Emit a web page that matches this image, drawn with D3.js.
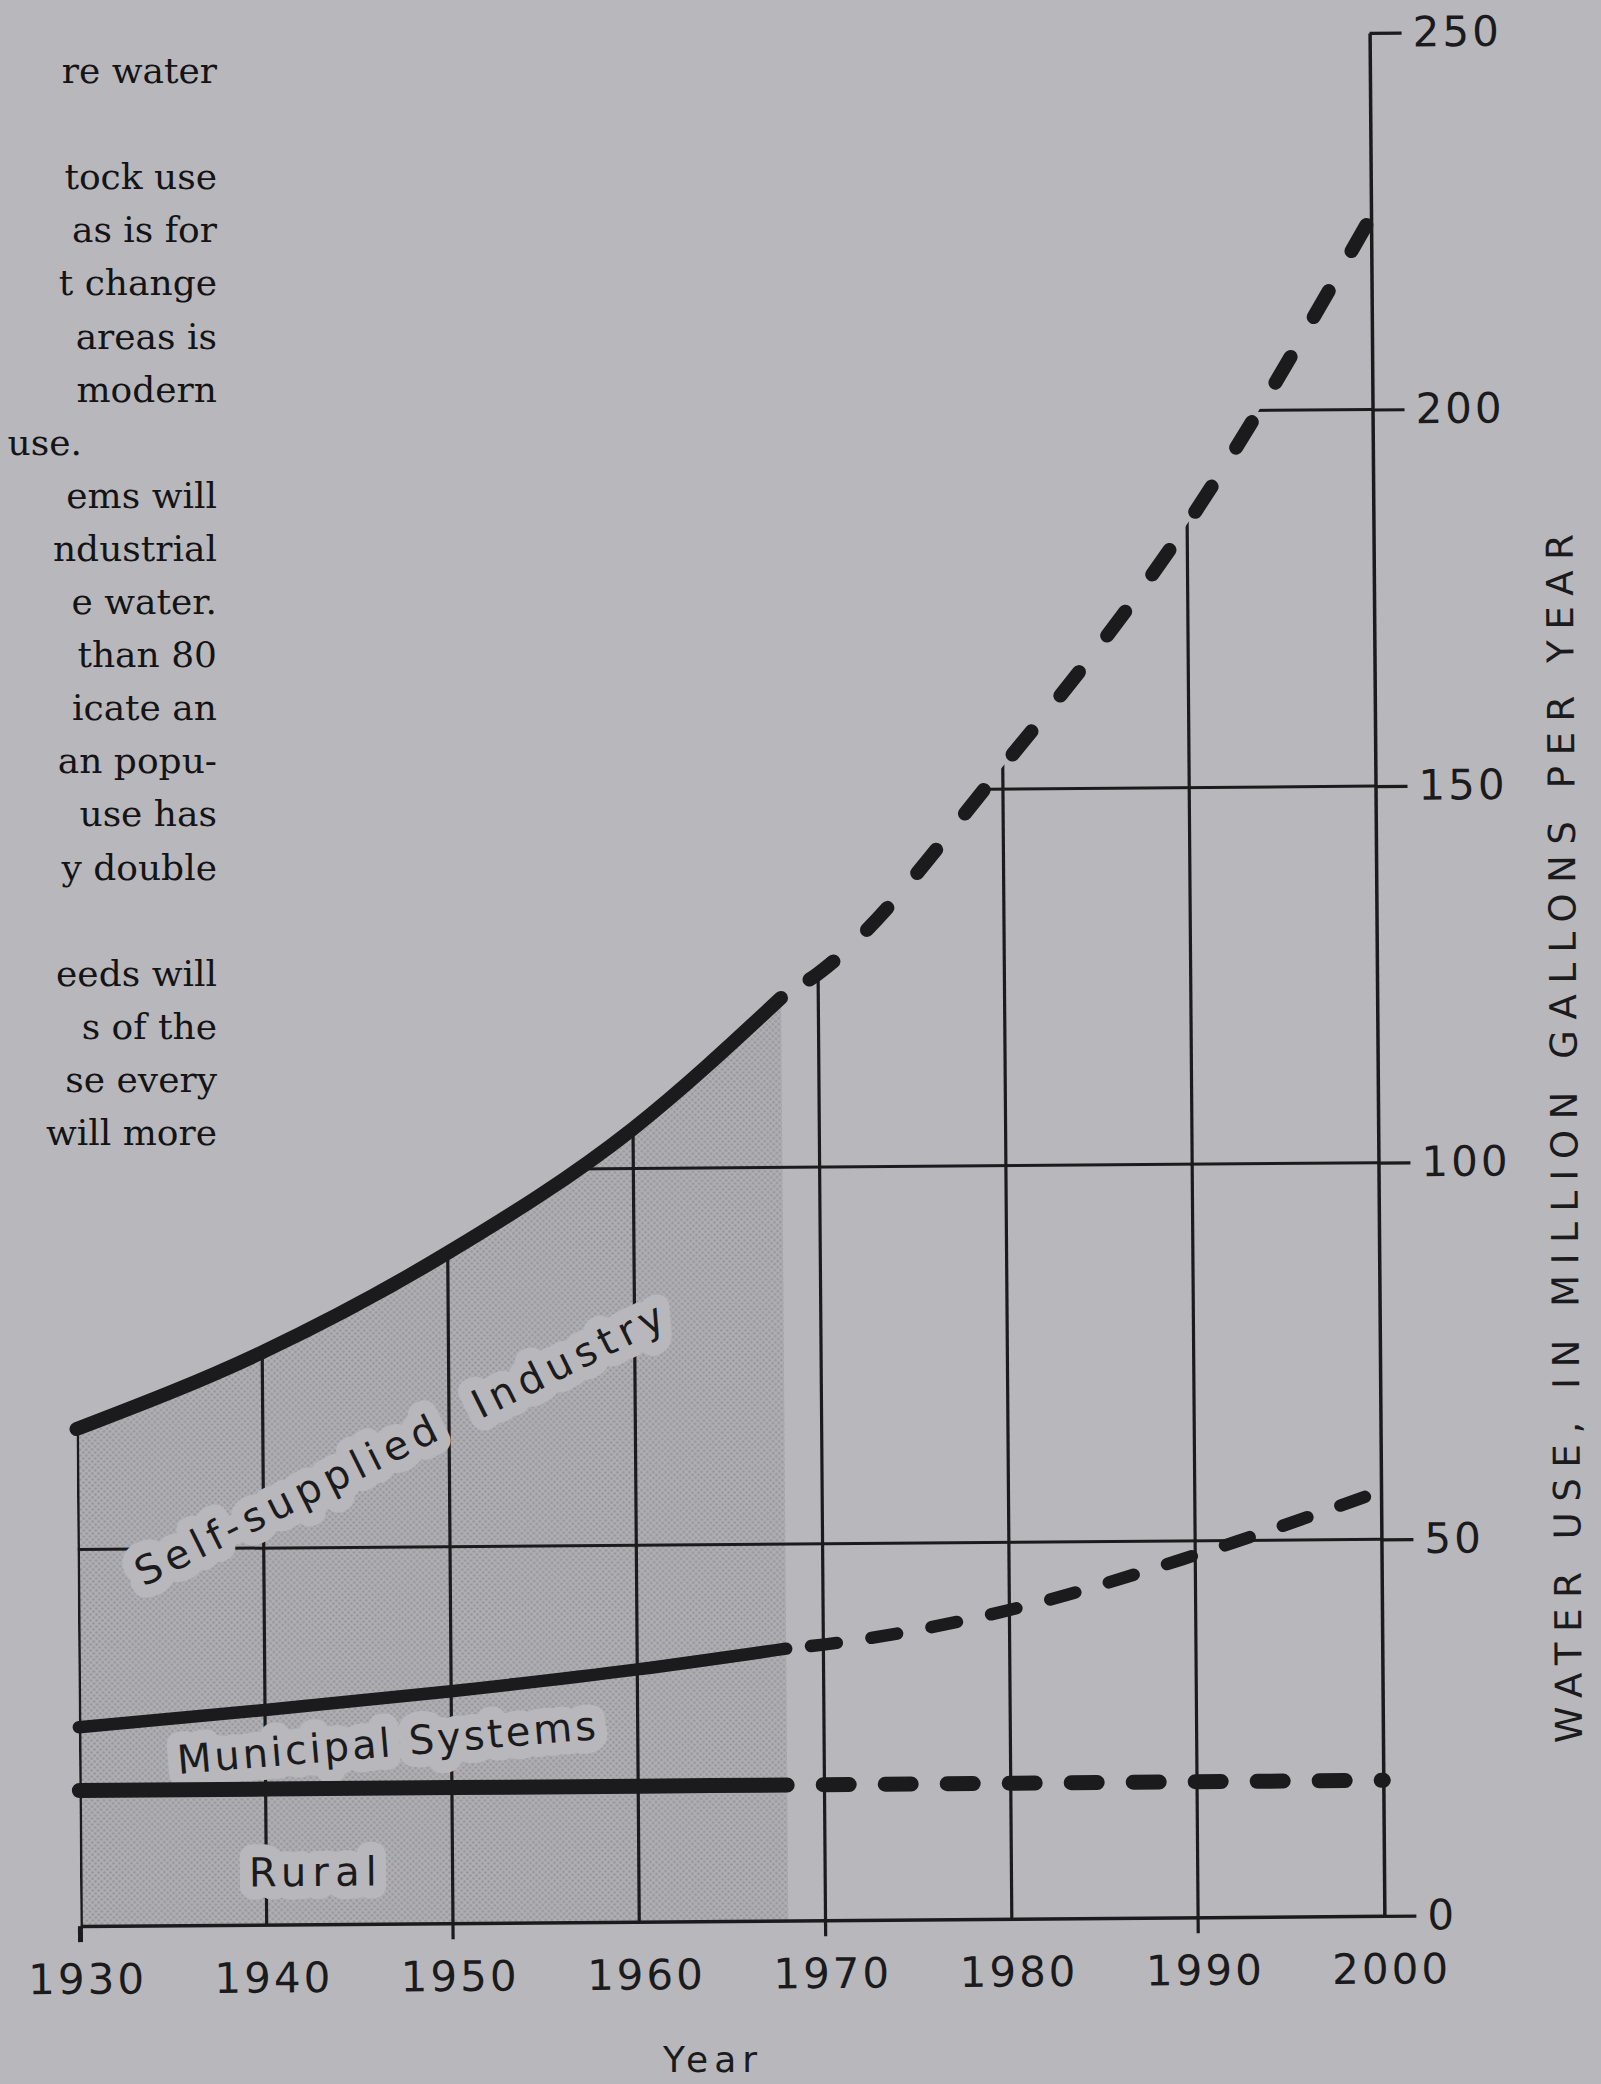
<!DOCTYPE html>
<html>
<head>
<meta charset="utf-8">
<script src="https://cdn.jsdelivr.net/npm/d3@7"></script>
<style>
  body { margin: 0; background: #b8b8bc; }
  svg { display: block; }
</style>
</head>
<body>
<svg id="chart" width="1601" height="2084"></svg>
<script>
// data (upper edge of each band, million gallons per year)
let years         = [1930, 1940, 1950, 1960, 1968, 1970, 1980, 1990, 2000];
let industryTop   = [66, 76, 89, 105.3, 122.5, 125.7, 153, 185, 225.6];
let municipalTop  = [26.4, 28.5, 30.8, 33.5, 36.1, 36.6, 41, 48.1, 56.4];
let ruralTop      = [18, 18, 18, 18, 18, 18, 18, 18, 18];
let projectionFrom = 1968;

let xTicks = [1930, 1940, 1950, 1960, 1970, 1980, 1990, 2000];
let bottomTicks = [1930, 1950, 1970, 1990];
let yTicks = [0, 50, 100, 150, 200, 250];

let bandLabels = ["Self-supplied  Industry", "Municipal Systems", "Rural"];
let xTitle = "Year";
let yTitle = "WATER USE, IN MILLION GALLONS PER YEAR";

// book text cut off at the left edge of the page
let bodyLines = ["re water", "", "tock use", "as is for", "t change", " areas is",
  " modern", "use.", "ems will", "ndustrial", "e water.", " than 80", "icate an",
  "an popu-", " use has", "y double", "", "eeds will", "s of the", "se every", "will more"];

let width = 1601, height = 2084;
let paper = "#b8b8bc", ink = "#1b1b1d";

let svg = d3.select("#chart");
let defs = svg.append("defs");

// halftone for the recorded period
let pat = defs.append("pattern")
    .attr("id", "stipple")
    .attr("width", 6).attr("height", 6)
    .attr("patternUnits", "userSpaceOnUse");
pat.append("rect").attr("width", 6).attr("height", 6).attr("fill", "#afafb3");
pat.selectAll("circle")
  .data([[1.5, 1.5], [4.5, 4.5]])
  .enter().append("circle")
    .attr("cx", d => d[0]).attr("cy", d => d[1]).attr("r", 1.3)
    .attr("fill", "#95959a");

svg.append("rect").attr("width", width).attr("height", height).attr("fill", paper);

svg.append("g")
  .selectAll("text")
  .data(bodyLines)
  .enter().append("text")
    .attr("x", d => d.length < 6 ? 82 : 217)
    .attr("y", (d, i) => 83 + i * 53.1)
    .attr("text-anchor", "end")
    .attr("fill", "#141416")
    .style("font-family", "'DejaVu Serif', serif")
    .style("font-size", "36px")
    .style("white-space", "pre")
    .text(d => d);

// the scanned page is tilted a little
let g = svg.append("g").attr("transform", "rotate(-0.45,728,980)");

let x = d3.scaleLinear().domain([1930, 2000]).range([73, 1377]);
let y = d3.scaleLinear().domain([0, 250]).range([1921, 38]);

let rows = years.map((yr, i) => ({
  year: yr, industry: industryTop[i], municipal: municipalTop[i], rural: ruralTop[i]
}));
let past = rows.filter(d => d.year <= projectionFrom);
let future = rows.filter(d => d.year >= projectionFrom);

let underTop = d3.area()
    .x(d => x(d.year))
    .y0(y(0))
    .y1(d => y(d.industry))
    .curve(d3.curveMonotoneX);

defs.append("clipPath").attr("id", "under")
  .append("path").attr("d", underTop(rows));

// shaded area 1930-1968
g.append("path")
  .attr("d", underTop(past))
  .attr("fill", "url(#stipple)");

// grid, only below the top curve
let grid = g.append("g")
    .attr("clip-path", "url(#under)")
    .attr("stroke", ink);

grid.selectAll(".vgrid")
  .data(xTicks.slice(0, -1))
  .enter().append("line")
    .attr("class", "vgrid")
    .attr("x1", d => x(d)).attr("x2", d => x(d))
    .attr("y1", y(0)).attr("y2", y(250))
    .attr("stroke-width", d => d === 1930 ? 5 : 3.2);

grid.selectAll(".hgrid")
  .data(yTicks.slice(1, -1))
  .enter().append("line")
    .attr("class", "hgrid")
    .attr("x1", x(1930)).attr("x2", x(2000))
    .attr("y1", d => y(d)).attr("y2", d => y(d))
    .attr("stroke-width", 3);

// ticks below the base line
g.selectAll(".btick")
  .data(bottomTicks)
  .enter().append("line")
    .attr("class", "btick")
    .attr("x1", d => x(d)).attr("x2", d => x(d))
    .attr("y1", y(0)).attr("y2", y(0) + 16)
    .attr("stroke", ink)
    .attr("stroke-width", d => d === 1930 ? 5 : 3.2);

// band labels, each knocked out of the grid
let labelPos = [
  { year: 1947.3, value: 63.7, angle: -26, len: 585 },
  { year: 1946.5, value: 24.1, angle: -4.3, len: 420 },
  { year: 1942.5, value: 7, angle: 0, len: 128 }
];

let labels = g.append("g");
bandLabels.forEach((lab, i) => {
  let p = labelPos[i];
  let t = "translate(" + x(p.year) + "," + y(p.value) + ") rotate(" + p.angle + ")";
  [true, false].forEach(halo => {
    labels.append("text")
      .attr("transform", t)
      .attr("text-anchor", "middle")
      .attr("dy", "0.36em")
      .attr("textLength", p.len)
      .attr("lengthAdjust", "spacing")
      .attr("fill", halo ? paper : ink)
      .attr("stroke", halo ? paper : "none")
      .attr("stroke-width", halo ? 26 : 0)
      .attr("stroke-linejoin", "round")
      .style("font-family", "'DejaVu Sans', sans-serif")
      .style("font-size", "40px")
      .style("white-space", "pre")
      .text(lab);
  });
});

// curves: solid for the record, dashed for the projection
let series = [
  { key: "industry", width: 14, dash: "30 46", offset: 42 },
  { key: "municipal", width: 12.5, dash: "26 35", offset: 36 },
  { key: "rural", width: 15, dash: "26 36", offset: 26 }
];

series.forEach(s => {
  let line = d3.line()
      .x(d => x(d.year))
      .y(d => y(d[s.key]))
      .curve(d3.curveMonotoneX);

  g.append("path")
    .attr("d", line(past))
    .attr("fill", "none")
    .attr("stroke", ink)
    .attr("stroke-width", s.width)
    .attr("stroke-linecap", "round");

  g.append("path")
    .attr("d", line(future))
    .attr("fill", "none")
    .attr("stroke", ink)
    .attr("stroke-width", s.width)
    .attr("stroke-linecap", "round")
    .attr("stroke-dasharray", s.dash)
    .attr("stroke-dashoffset", s.offset);
});

// axes
let yAxis = d3.axisRight(y)
    .tickValues(yTicks)
    .tickSizeInner(32)
    .tickSizeOuter(0)
    .tickPadding(11);

let yg = g.append("g")
    .attr("transform", "translate(" + x(2000) + ",0)")
    .call(yAxis);

let xAxis = d3.axisBottom(x)
    .tickValues(xTicks)
    .tickSizeInner(0)
    .tickSizeOuter(0)
    .tickPadding(38)
    .tickFormat(d3.format("d"));

let xg = g.append("g")
    .attr("transform", "translate(0," + y(0) + ")")
    .call(xAxis);

[yg, xg].forEach(ax => {
  ax.select(".domain").attr("stroke", ink).attr("stroke-width", 3.5);
  ax.selectAll(".tick line").attr("stroke", ink).attr("stroke-width", 3.2);
  ax.selectAll(".tick text")
    .attr("fill", ink)
    .style("font-family", "'DejaVu Sans', sans-serif")
    .style("font-size", "42px")
    .style("letter-spacing", "3px");
});
xg.selectAll(".tick text").attr("dx", "0.15em");

g.append("text")
  .attr("transform", "translate(1576," + y(103) + ") rotate(-90)")
  .attr("text-anchor", "middle")
  .attr("textLength", 1209)
  .attr("lengthAdjust", "spacing")
  .attr("fill", ink)
  .style("font-family", "'DejaVu Sans', sans-serif")
  .style("font-size", "37px")
  .text(yTitle);

svg.append("text")
  .attr("x", 713)
  .attr("y", 2072)
  .attr("text-anchor", "middle")
  .attr("fill", ink)
  .style("font-family", "'DejaVu Sans', sans-serif")
  .style("font-size", "36px")
  .style("letter-spacing", "6px")
  .text(xTitle);
</script>
</body>
</html>
